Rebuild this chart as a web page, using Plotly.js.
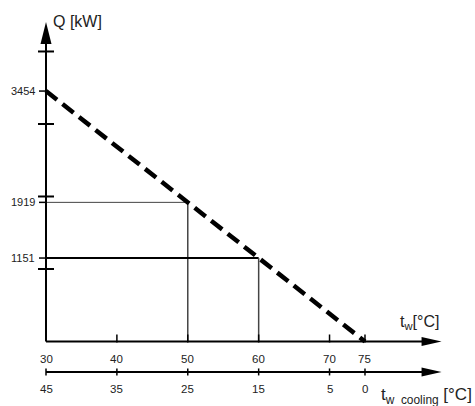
<!DOCTYPE html>
<html><head><meta charset="utf-8">
<script src="https://cdn.plot.ly/plotly-3.0.1.min.js"></script>
<style>html,body{margin:0;padding:0;background:#fff}#chart{width:475px;height:406px}</style>
</head><body><div id="chart"></div>
<script>
// ---- data ----
const twTicks = [30, 40, 50, 60, 70, 75];          // t_w [°C]
const twCoolingTicks = [45, 35, 25, 15, 5, 0];     // t_w cooling [°C]
const qTicks = [1000, 2000, 3000, 4000];           // unlabeled Q ticks
const qLabels = [3454, 1919, 1151];                // labeled Q values [kW]
const lineTw = [30, 75];
const lineQ = [3454, 0];
const pointTw = [50, 60];
const pointQ = [1919, 1151];

// ---- layout constants ----
const TW0 = 30, TW_SUM = 75;           // t_w cooling = 75 - t_w
const X_RANGE = [23.51, 90.52];
const Y_RANGE = [-889.7, 4710];
const TW_TIP = 85.8;                    // x-axis arrow tip
const Q_TIP = 4407;                     // y-axis arrow tip
const COOL_Y = -420;                    // second axis position (in Q units)
const FAM = 'Liberation Sans, Arial, sans-serif';

const shapes = [];
const annotations = [];
const line = (x0, y0, x1, y1, w, c) => shapes.push({type:'line', xref:'x', yref:'y', x0, y0, x1, y1, line:{width:w, color:c}});

// axes
line(TW0, 0, TW_TIP - 2.5, 0, 2, '#000');
line(TW0, COOL_Y, TW_TIP - 2.5, COOL_Y, 2, '#000');
line(TW0, 0, TW0, Q_TIP - 250, 2, '#000');
// arrow heads
const head = (xa, ya, path) => shapes.push({type:'path', xref:'x', yref:'y', xsizemode:'pixel', ysizemode:'pixel', xanchor:xa, yanchor:ya, path, fillcolor:'#000', line:{width:0}});
head(TW_TIP, 0, 'M0,0 L-20,4.5 L-20,-4.5 Z');
head(TW_TIP, COOL_Y, 'M0,0 L-20,4.5 L-20,-4.5 Z');
head(TW0, Q_TIP, 'M0,0 L-5.5,-22 L5.5,-22 Z');

// y ticks crossing
qTicks.forEach(q => shapes.push({type:'line', xref:'x', yref:'y', xsizemode:'pixel', xanchor:TW0, x0:-8, x1:8, y0:q, y1:q, line:{width:2, color:'#000'}}));
// labeled ticks
qLabels.forEach(q => {
  shapes.push({type:'line', xref:'x', yref:'y', xsizemode:'pixel', xanchor:TW0, x0:-7, x1:0, y0:q, y1:q, line:{width:1.5, color:'#000'}});
  annotations.push({x:TW0, y:q, xref:'x', yref:'y', text:String(q), showarrow:false, xanchor:'right', yanchor:'middle', xshift:-9, font:{size:11, color:'#222', family:FAM}});
});
// main x ticks
twTicks.forEach(t => {
  if (t !== TW0) shapes.push({type:'line', xref:'x', yref:'y', ysizemode:'pixel', yanchor:0, x0:t, x1:t, y0:-1, y1:7, line:{width:1.5, color:'#000'}});
  annotations.push({x:t, y:0, xref:'x', yref:'y', text:String(t), showarrow:false, xanchor:'center', yanchor:'middle', yshift:-17.5, font:{size:11.5, color:'#222', family:FAM}});
});
// cooling ticks
twCoolingTicks.forEach(c => {
  const t = TW_SUM - c;
  shapes.push({type:'line', xref:'x', yref:'y', ysizemode:'pixel', yanchor:COOL_Y, x0:t, x1:t, y0:-3.5, y1:3.5, line:{width:1.5, color:'#000'}});
  annotations.push({x:t, y:COOL_Y, xref:'x', yref:'y', text:String(c), showarrow:false, xanchor:'center', yanchor:'middle', yshift:-17, font:{size:11.5, color:'#222', family:FAM}});
});

// axis titles
const tf = {size:17, color:'#222', family:FAM};
annotations.push({x:TW0, y:Q_TIP, xref:'x', yref:'y', text:'Q [kW]', showarrow:false, xanchor:'left', yanchor:'middle', xshift:5, yshift:0, font:{size:16, color:'#222', family:FAM}});
annotations.push({x:TW_TIP, y:0, xref:'x', yref:'y', text:'t<sub>w</sub>[°C]', showarrow:false, xanchor:'right', yanchor:'bottom', yshift:7, xshift:-1, font:{size:16, color:'#222', family:FAM}});
annotations.push({x:TW_TIP, y:COOL_Y, xref:'x', yref:'y', text:'t<sub>w  cooling</sub> [°C]', showarrow:false, xanchor:'left', yanchor:'middle', xshift:-63, yshift:-24, font:tf});

// guide lines
const traces = [];
const styles = [{h:{width:1, color:'#444'}, v:{width:1.5, color:'#444'}}, {h:{width:2, color:'#000'}, v:{width:1.5, color:'#444'}}];
pointTw.forEach((t, i) => {
  traces.push({x:[TW0, t], y:[pointQ[i], pointQ[i]], mode:'lines', line:styles[i].h, hoverinfo:'skip'});
  traces.push({x:[t, t], y:[pointQ[i], 0], mode:'lines', line:styles[i].v, hoverinfo:'skip'});
});
traces.push({x:lineTw, y:lineQ, mode:'lines', line:{color:'#000', width:4.5, dash:'14px,7px'}, hoverinfo:'skip'});

const layout = {
  width:475, height:406, margin:{l:0, r:0, t:0, b:0},
  paper_bgcolor:'#fff', plot_bgcolor:'#fff', showlegend:false,
  xaxis:{range:X_RANGE, visible:false, fixedrange:true},
  yaxis:{range:Y_RANGE, visible:false, fixedrange:true},
  shapes, annotations
};
Plotly.newPlot('chart', traces, layout, {staticPlot:true});
</script></body></html>
